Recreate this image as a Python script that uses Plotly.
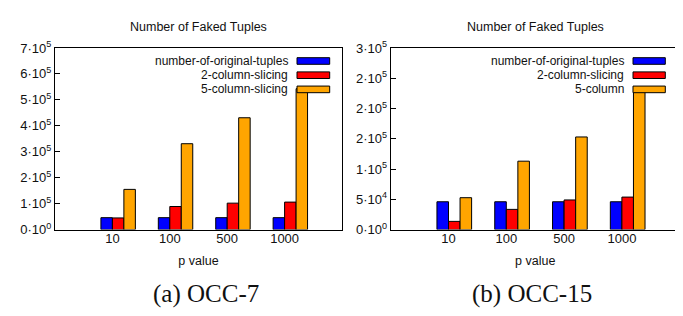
import plotly.graph_objects as go

# ---------------- data ----------------
p_labels = ["10", "100", "500", "1000"]
p_pos = [1, 2, 3, 4]
series_names = ["number-of-original-tuples", "2-column-slicing", "5-column-slicing"]
series_names_b = ["number-of-original-tuples", "2-column-slicing", "5-column"]

occ7_original = [46000, 46000, 46000, 46000]
occ7_two_col = [45000, 89000, 102000, 106000]
occ7_five_col = [155000, 331000, 431000, 543000]

occ15_original = [46000, 46000, 46000, 46000]
occ15_two_col = [13600, 33400, 49000, 53700]
occ15_five_col = [52700, 113000, 153000, 235500]

yticks_a = [0, 100000, 200000, 300000, 400000, 500000, 600000, 700000]
yticktext_a = ["0·10<sup>0</sup>", "1·10<sup>5</sup>", "2·10<sup>5</sup>", "3·10<sup>5</sup>",
               "4·10<sup>5</sup>", "5·10<sup>5</sup>", "6·10<sup>5</sup>", "7·10<sup>5</sup>"]
yticks_b = [0, 50000, 100000, 150000, 200000, 250000, 300000]
yticktext_b = ["0·10<sup>0</sup>", "5·10<sup>4</sup>", "1·10<sup>5</sup>", "2·10<sup>5</sup>",
               "2·10<sup>5</sup>", "2·10<sup>5</sup>", "3·10<sup>5</sup>"]

colors = ["#0000FF", "#FF0000", "#FFA500"]
offsets = [-0.2, 0.0, 0.2]
BAR_W = 0.2

W, H = 683, 316
def px(x):
    return x / W
def py(y):
    return 1 - y / H

FONT = "Liberation Sans, Arial, sans-serif"
TXT = "#111"
fig = go.Figure()

panels = [
    ("x", "y", [occ7_original, occ7_two_col, occ7_five_col]),
    ("x2", "y2", [occ15_original, occ15_two_col, occ15_five_col]),
]
for xa, ya, vals in panels:
    for i, v in enumerate(vals):
        fig.add_trace(go.Bar(
            x=p_pos, y=v, xaxis=xa, yaxis=ya, width=BAR_W, offset=offsets[i],
            marker=dict(color=colors[i], line=dict(color="black", width=1)),
            showlegend=False, name=series_names[i]))

ax_common = dict(showline=True, linecolor="black", linewidth=1, mirror=True,
                 showgrid=False, zeroline=False,
                 tickfont=dict(family=FONT, size=13, color=TXT))

ydom = [py(224.7), py(32.7)]
xtitle = dict(text="p value", standoff=11, font=dict(family=FONT, size=12.5, color=TXT))
fig.update_layout(
    width=W, height=H, margin=dict(l=0, r=0, t=0, b=0),
    paper_bgcolor="white", plot_bgcolor="white", barmode="overlay",
    showlegend=False,
    xaxis=dict(domain=[px(47), px(334)], range=[0, 5], tickvals=p_pos, ticktext=p_labels,
               ticks="", ticklabelstandoff=-3, title=xtitle, anchor="y", **ax_common),
    yaxis=dict(domain=ydom, range=[0, 700000], tickvals=yticks_a, ticktext=yticktext_a,
               ticks="inside", ticklen=5, tickcolor="black", anchor="x", **ax_common),
    xaxis2=dict(domain=[px(382.7), px(671.7)], range=[0, 5], tickvals=p_pos, ticktext=p_labels,
                ticks="", ticklabelstandoff=-3, title=xtitle, anchor="y2", **ax_common),
    yaxis2=dict(domain=ydom, range=[0, 300000], tickvals=yticks_b, ticktext=yticktext_b,
                ticks="inside", ticklen=5, tickcolor="black", anchor="x2", **ax_common),
)

annotations = []
shapes = []
# titles
for cx in [190.5, 527.2]:
    annotations.append(dict(text="Number of Faked Tuples", x=px(cx), y=py(10.5), xref="paper",
                            yref="paper", showarrow=False, xanchor="center", yanchor="middle",
                            font=dict(family=FONT, size=12.5, color=TXT)))
# captions
for cx, txt in [(198, "(a) OCC-7"), (524, "(b) OCC-15")]:
    annotations.append(dict(text=txt, x=px(cx), y=py(293), xref="paper", yref="paper",
                            showarrow=False, xanchor="center", yanchor="middle",
                            font=dict(family="Liberation Serif, Times New Roman, serif", size=25,
                                      color="#111")))
# legends
rows = [46.5, 61.5, 76.5]
for text_right, box_l, box_r, names in [(281.7, 289, 321.7, series_names),
                                        (618.3, 625, 657.3, series_names_b)]:
    for i, yc in enumerate(rows):
        annotations.append(dict(text=names[i], x=px(text_right), y=py(yc), xref="paper",
                                yref="paper", showarrow=False, xanchor="right", yanchor="middle",
                                font=dict(family=FONT, size=12, color=TXT)))
        shapes.append(dict(type="rect", xref="paper", yref="paper",
                           x0=px(box_l), x1=px(box_r), y0=py(yc + 3.5), y1=py(yc - 3.5),
                           fillcolor=colors[i], line=dict(color="black", width=1), layer="above"))

fig.update_layout(annotations=annotations, shapes=shapes)
fig.write_html("out.html")
